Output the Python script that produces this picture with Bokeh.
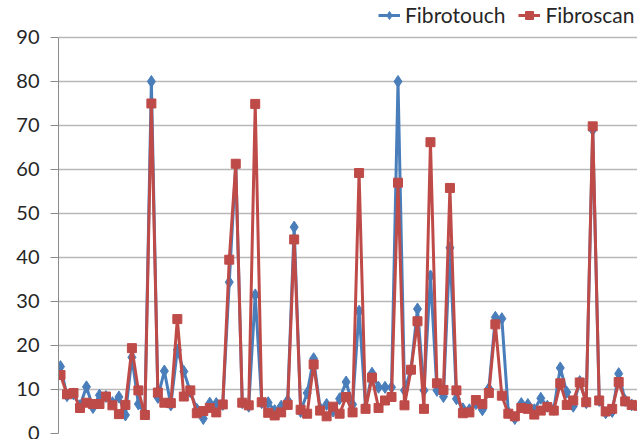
from bokeh.plotting import figure
from bokeh.models import ColumnDataSource, Range1d, FixedTicker, Legend, LegendItem
from bokeh.embed import file_html
from bokeh.resources import INLINE

patients = list(range(1, 91))
fibrotouch = [15.2, 8.6, 9.0, 6.3, 10.6, 5.9, 8.7, 8.4, 7.0, 8.3,
              4.2, 17.3, 6.7, 4.5, 80.0, 8.2, 14.2, 6.5, 19.0, 14.1,
              9.5, 5.5, 3.4, 6.9, 6.8, 6.6, 34.4, 61.0, 7.0, 6.2,
              31.5, 7.0, 7.0, 5.2, 6.2, 7.5, 46.9, 5.0, 9.2, 17.0,
              5.7, 6.6, 5.1, 7.9, 11.7, 6.6, 27.8, 6.0, 13.7, 10.5,
              10.5, 10.5, 80.0, 9.8, 14.5, 28.3, 9.8, 35.8, 9.8, 8.4,
              42.2, 7.9, 5.6, 5.4, 6.8, 5.4, 10.2, 26.4, 26.1, 4.8,
              3.4, 6.8, 6.6, 5.4, 8.0, 6.2, 5.5, 14.9, 9.4, 6.2,
              11.8, 7.0, 69.0, 7.5, 4.7, 5.0, 13.6, 7.5, 6.5, 6.3]
fibroscan = [13.3, 8.9, 9.2, 5.8, 7.0, 6.7, 6.7, 8.4, 6.4, 4.4,
             6.5, 19.4, 9.8, 4.2, 75.0, 9.3, 7.0, 6.9, 26.0, 8.4,
             9.8, 4.6, 5.1, 5.8, 4.8, 6.6, 39.5, 61.3, 7.0, 6.4,
             74.9, 7.1, 4.7, 4.1, 4.8, 6.5, 44.1, 5.4, 4.5, 15.7,
             5.2, 3.9, 6.1, 4.5, 8.3, 4.8, 59.2, 5.6, 12.7, 5.8,
             7.5, 8.3, 57.0, 6.4, 14.5, 25.5, 5.6, 66.2, 11.4, 9.9,
             55.8, 9.8, 4.6, 4.8, 7.6, 6.7, 9.2, 24.8, 8.6, 4.5,
             3.9, 5.8, 5.6, 4.3, 5.2, 6.0, 5.2, 11.4, 6.5, 7.5,
             11.6, 7.1, 69.8, 7.5, 5.0, 5.6, 11.7, 7.3, 6.5, 6.3]
y_ticks = [0, 10, 20, 30, 40, 50, 60, 70, 80, 90]
series_names = ["Fibrotouch", "Fibroscan"]

BLUE = "#4a7ebb"
RED = "#be4b48"

src = ColumnDataSource(dict(x=patients, a=fibrotouch, b=fibroscan))

# frame spans the full height; the extra room above 90 holds the legend
p = figure(width=637, height=439, output_backend="svg", toolbar_location=None,
           x_range=Range1d(0.69, 89.9), y_range=Range1d(0, 98.4),
           min_border_left=58, min_border_top=0, min_border_bottom=6,
           min_border_right=0)
p.outline_line_color = None
p.background_fill_color = "white"
p.border_fill_color = "white"

p.xaxis.visible = False
p.xgrid.visible = False

yax = p.yaxis[0]
yax.ticker = FixedTicker(ticks=y_ticks)
yax.bounds = (0, 90)
yax.axis_line_color = "#8c8c8c"
yax.axis_line_width = 1
yax.major_tick_line_color = "#8c8c8c"
yax.major_tick_out = 8
yax.major_tick_in = 0
yax.minor_tick_line_color = None
yax.major_label_text_font = "Lato"
yax.major_label_text_font_size = "20px"
yax.major_label_text_color = "#262626"
yax.major_label_standoff = 11

p.ygrid.ticker = FixedTicker(ticks=y_ticks)
p.ygrid.grid_line_color = "#b8b8b8"
p.ygrid.grid_line_width = 1.3

l1 = p.line("x", "a", source=src, line_color=BLUE, line_width=3)
m1 = p.scatter("x", "a", source=src, marker="diamond", size=12,
               fill_color=BLUE, line_color=BLUE)
l2 = p.line("x", "b", source=src, line_color=RED, line_width=3)
m2 = p.scatter("x", "b", source=src, marker="square", size=9,
               fill_color=RED, line_color=RED)

legend = Legend(items=[LegendItem(label=series_names[0], renderers=[l1, m1]),
                       LegendItem(label=series_names[1], renderers=[l2, m2])],
                orientation="horizontal", location=(320, 406),
                label_text_font="Lato", label_text_font_size="21px",
                label_text_color="#262626", glyph_width=22, glyph_height=20,
                label_height=20, label_standoff=5, spacing=13, padding=0,
                margin=0, border_line_color=None, background_fill_alpha=0)
p.add_layout(legend)

open("out.html", "w").write(file_html(p, INLINE))
